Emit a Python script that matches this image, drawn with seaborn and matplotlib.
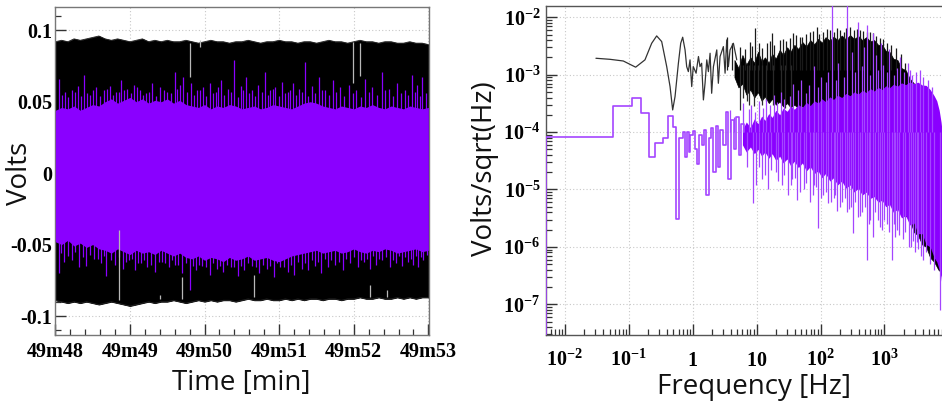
import numpy as np
import pandas as pd
import matplotlib
matplotlib.use("Agg")
import matplotlib.pyplot as plt
import seaborn as sns
from matplotlib.ticker import FixedLocator, FixedFormatter, MultipleLocator, LogLocator, NullFormatter

# ---------------- data: left panel (time series envelopes, seconds after 49m48) ----------------
black_hi = [0.092, 0.093, 0.092, 0.094, 0.093, 0.094, 0.095, 0.096, 0.094, 0.093,
            0.094, 0.093, 0.092, 0.093, 0.094, 0.092, 0.093, 0.092, 0.093, 0.092,
            0.092, 0.093, 0.092, 0.091, 0.092, 0.093, 0.092, 0.092, 0.091, 0.092,
            0.092, 0.093, 0.092, 0.091, 0.092, 0.092, 0.093, 0.092, 0.092, 0.091,
            0.092, 0.092, 0.091, 0.092, 0.093, 0.092, 0.092, 0.091, 0.092, 0.093,
            0.092, 0.092, 0.091, 0.092, 0.092, 0.091, 0.091, 0.092, 0.091, 0.091, 0.090]
black_lo = [-0.089, -0.090, -0.091, -0.090, -0.091, -0.090, -0.091, -0.092, -0.091, -0.090,
            -0.091, -0.092, -0.093, -0.092, -0.091, -0.090, -0.091, -0.090, -0.090, -0.089,
            -0.090, -0.091, -0.090, -0.089, -0.090, -0.089, -0.090, -0.089, -0.089, -0.090,
            -0.089, -0.088, -0.089, -0.089, -0.088, -0.089, -0.089, -0.088, -0.089, -0.088,
            -0.089, -0.088, -0.088, -0.089, -0.088, -0.088, -0.089, -0.088, -0.088, -0.087,
            -0.088, -0.088, -0.087, -0.088, -0.088, -0.087, -0.088, -0.087, -0.088, -0.087, -0.087]
purple_hi = [0.044, 0.046, 0.045, 0.047, 0.044, 0.046, 0.048, 0.047,
             0.050, 0.052, 0.049, 0.051, 0.053, 0.050, 0.052, 0.049, 0.051, 0.050, 0.052, 0.049, 0.051, 0.048,
             0.047, 0.046, 0.048, 0.045, 0.047, 0.046, 0.048, 0.047, 0.045, 0.046, 0.047, 0.045, 0.046, 0.048,
             0.047, 0.046, 0.045, 0.047, 0.049, 0.050,
             0.049, 0.047, 0.046, 0.045, 0.047, 0.046, 0.045, 0.047, 0.046, 0.048, 0.046, 0.045, 0.047, 0.046,
             0.045, 0.047, 0.046, 0.045, 0.046]
purple_lo = [-0.048, -0.050, -0.047, -0.051, -0.049, -0.052, -0.050, -0.053,
             -0.054, -0.056, -0.053, -0.055, -0.057, -0.054, -0.056, -0.055, -0.057, -0.054, -0.056, -0.058, -0.056, -0.059,
             -0.060, -0.058, -0.061, -0.059, -0.060, -0.062, -0.059, -0.061, -0.060, -0.058, -0.061, -0.060, -0.059, -0.061,
             -0.062, -0.060, -0.058, -0.057, -0.056, -0.055,
             -0.054, -0.056, -0.055, -0.054, -0.056, -0.055, -0.053, -0.055, -0.056, -0.054, -0.055, -0.053, -0.054, -0.056,
             -0.055, -0.054, -0.053, -0.055, -0.054]
top_spike_t = [2.7, 8, 13, 18, 23, 28, 33, 39, 44, 49, 53, 58, 63, 68, 73, 78, 84, 90, 96, 100,
               103, 109, 114, 119, 124, 129, 133, 139, 144, 149, 153, 158, 163, 169, 173, 177, 182, 187, 191, 196,
               201, 206, 212, 217, 223, 229, 236, 242, 249, 255, 263, 268, 275, 281, 287, 291, 295,
               5, 10.5, 15.5, 20.5, 25.5, 30.5, 36, 41.5, 46.5, 51, 55.5, 60.5, 65.5, 70.5, 75.5, 81, 87, 93,
               98, 106, 111.5, 116.5, 121.5, 126.5, 131, 136, 141.5, 146.5, 151, 155.5, 160.5, 166, 171, 175,
               179.5, 184.5, 189, 193.5, 198.5, 203.5, 209, 214.5, 220, 226, 232.5, 239, 245.5, 252, 259,
               265.5, 271.5, 278, 284, 289, 293, 298]
top_spike_v = [0.066, 0.057, 0.058, 0.061, 0.069, 0.055, 0.060, 0.058, 0.061, 0.057, 0.065, 0.059, 0.062, 0.058,
               0.056, 0.063, 0.060, 0.057, 0.071, 0.062, 0.067, 0.063, 0.058, 0.060, 0.063, 0.057, 0.065, 0.059,
               0.079, 0.061, 0.067, 0.058, 0.062, 0.071, 0.058, 0.060, 0.064, 0.057, 0.063, 0.059, 0.078, 0.061,
               0.067, 0.058, 0.065, 0.060, 0.062, 0.058, 0.066, 0.060, 0.071, 0.059, 0.063, 0.058, 0.069, 0.062, 0.067,
               0.055, 0.053, 0.057, 0.054, 0.056, 0.058, 0.054, 0.059, 0.055, 0.057, 0.058, 0.056, 0.060, 0.055,
               0.057, 0.054, 0.058, 0.056, 0.059, 0.057, 0.055, 0.058, 0.054, 0.056, 0.060, 0.055, 0.057, 0.053,
               0.058, 0.056, 0.054, 0.057, 0.055, 0.059, 0.054, 0.056, 0.058, 0.055, 0.057, 0.054, 0.056, 0.058,
               0.055, 0.057, 0.054, 0.056, 0.053, 0.057, 0.055, 0.058, 0.054, 0.056, 0.055, 0.057, 0.054, 0.056]
bot_spike_t = [2.7, 7, 13, 19, 25, 31, 37, 41, 48, 54, 59, 64, 69, 74, 80, 86, 91, 96, 102, 108,
               113, 118, 124, 130, 135, 141, 147, 152, 158, 164, 170, 176, 181, 187, 192, 198, 203, 209, 214, 219,
               225, 231, 237, 243, 248, 253, 258, 263, 269, 274, 279, 284, 288, 292, 296,
               4.5, 10, 16, 22, 28, 34, 39, 45, 51, 56.5, 61.5, 66.5, 71.5, 77, 83, 88.5, 93.5, 99, 105,
               110.5, 115.5, 121, 127, 132.5, 138, 144, 149.5, 155, 161, 167, 173, 178.5, 184, 189.5, 195,
               200.5, 206, 211.5, 216.5, 222, 228, 234, 240, 245.5, 250.5, 255.5, 260.5, 266, 271.5, 276.5,
               281.5, 286, 290, 294, 298.5]
bot_spike_v = [-0.070, -0.062, -0.061, -0.066, -0.065, -0.060, -0.063, -0.072, -0.064, -0.067,
               -0.061, -0.068, -0.063, -0.066, -0.069, -0.062, -0.066, -0.064, -0.070, -0.082,
               -0.068, -0.065, -0.071, -0.067, -0.069, -0.066, -0.072, -0.068, -0.065, -0.070,
               -0.067, -0.073, -0.066, -0.069, -0.071, -0.067, -0.068, -0.065, -0.070, -0.066,
               -0.064, -0.068, -0.063, -0.066, -0.062, -0.067, -0.064, -0.061, -0.066, -0.063,
               -0.065, -0.062, -0.064, -0.066, -0.061,
               -0.056, -0.058, -0.055, -0.059, -0.057, -0.060, -0.058, -0.061, -0.059, -0.062,
               -0.060, -0.063, -0.061, -0.064, -0.062, -0.063, -0.061, -0.064, -0.063, -0.065,
               -0.064, -0.066, -0.063, -0.065, -0.064, -0.066, -0.065, -0.063, -0.066, -0.064,
               -0.065, -0.063, -0.066, -0.064, -0.062, -0.063, -0.061, -0.062, -0.060, -0.061,
               -0.062, -0.060, -0.059, -0.061, -0.060, -0.058, -0.060, -0.059, -0.061, -0.058,
               -0.059, -0.060, -0.058, -0.059, -0.057]
gap_t = [108, 116, 239, 245, 51.5, 102, 160, 253, 267, 84.5]
gap_lo = [0.067, 0.088, 0.063, 0.068, -0.089, -0.088, -0.087, -0.087, -0.087, -0.088]
gap_hi = [0.091, 0.093, 0.092, 0.091, -0.040, -0.073, -0.071, -0.078, -0.082, -0.085]
time_ticks_min = [0, 1, 2, 3, 4, 5]
time_tick_labels = ["49m48", "49m49", "49m50", "49m51", "49m52", "49m53"]
volt_ticks = [-0.1, -0.05, 0.0, 0.05, 0.1]
volt_tick_labels = ["-0.1", "-0.05", "0", "0.05", "0.1"]

# ---------------- data: right panel (amplitude spectral density) ----------------
black_line_f = [0.0306, 0.0508, 0.082, 0.128, 0.179, 0.228, 0.273, 0.327, 0.392, 0.442, 0.486, 0.529,
                0.597, 0.649, 0.697, 0.759, 0.805, 0.855, 0.908, 0.965, 1.02, 1.13, 1.23, 1.30, 1.38,
                1.47, 1.56, 1.66, 1.76, 1.87, 1.98, 2.11, 2.38, 2.52, 2.68, 3.02, 3.21, 3.41, 3.62,
                3.84, 4.33, 4.89]
black_line_v = [1.93e-3, 1.85e-3, 1.73e-3, 1.35e-3, 1.81e-3, 3.52e-3, 4.73e-3, 3.77e-3, 1.38e-3, 6.2e-4,
                2.43e-4, 4.15e-4, 1.58e-3, 3.52e-3, 4.49e-3, 2.70e-3, 1.38e-3, 1.13e-3, 1.81e-3, 6.2e-4,
                1.38e-3, 1.06e-3, 2.07e-3, 1.38e-3, 1.58e-3, 3.63e-4, 7.08e-4, 1.81e-3, 1.13e-3, 2.36e-3,
                4.74e-4, 1.38e-3, 2.70e-3, 7.08e-4, 2.07e-3, 3.08e-3, 1.06e-3, 4.03e-3, 1.38e-3, 2.70e-3,
                3.52e-3, 1.81e-3]
black_band_f = [4.5, 5.2, 6, 6.9, 8, 9.2, 10.5, 12, 13.5, 15.5,
                17.5, 20, 23, 26, 30, 34, 39, 45, 52, 60,
                69, 80, 92, 105, 120, 140, 160, 185, 215, 250,
                290, 335, 390, 450, 520, 600, 690, 800, 920, 1050,
                1200, 1380, 1600, 1850, 2150, 2500, 2900, 3350, 3900, 4500,
                5200, 6000, 7000, 8000, 9000]
black_band_hi = [1.8e-3, 1.3e-3, 2.2e-3, 1.5e-3, 2.0e-3, 1.6e-3, 2.5e-3, 1.7e-3, 2.0e-3, 1.6e-3,
                 2.3e-3, 1.9e-3, 2.7e-3, 2.2e-3, 3.0e-3, 2.5e-3, 3.3e-3, 2.8e-3, 3.7e-3, 3.1e-3,
                 4.0e-3, 3.4e-3, 4.2e-3, 3.6e-3, 4.5e-3, 3.9e-3, 4.6e-3, 4.0e-3, 4.8e-3, 4.1e-3,
                 4.9e-3, 4.2e-3, 4.7e-3, 4.0e-3, 4.5e-3, 3.8e-3, 4.0e-3, 3.3e-3, 3.3e-3, 2.6e-3,
                 2.5e-3, 1.9e-3, 1.8e-3, 1.3e-3, 1.2e-3, 8.5e-4, 7e-4, 4.5e-4, 3.2e-4, 1.8e-4,
                 8e-5, 3.5e-5, 1.5e-5, 7e-6, 4e-6]
black_band_lo = [9e-4, 6e-4, 7e-4, 4.5e-4, 5.5e-4, 4e-4, 5e-4, 3.5e-4, 4.2e-4, 3.2e-4,
                 3.8e-4, 3e-4, 3.4e-4, 2.8e-4, 3.2e-4, 2.7e-4, 3e-4, 2.6e-4, 2.8e-4, 2.5e-4,
                 2.4e-4, 2e-4, 1.8e-4, 1.5e-4, 1.4e-4, 1.2e-4, 1.1e-4, 1e-4, 9e-5, 8e-5,
                 7e-5, 6.5e-5, 6e-5, 5.5e-5, 5e-5, 4.5e-5, 4e-5, 3.5e-5, 3e-5, 2.5e-5,
                 1.5e-5, 1.2e-5, 7e-6, 6e-6, 3.5e-6, 3e-6, 1.8e-6, 1.6e-6, 1.1e-6, 1e-6,
                 6.5e-7, 5.5e-7, 4e-7, 3.5e-7, 3e-7]
black_spike_f = [3.4, 4.1, 7.9, 9.4, 14.4, 17.2, 23, 33, 37.5, 48, 68, 87, 111, 141, 202, 290, 415, 528,
                 671, 853,
                 5.5, 6.5, 8.5, 11, 12, 16, 19, 26, 29, 42, 52, 60, 76, 95, 125, 160, 180, 230, 250, 330,
                 370, 460, 600, 750, 950, 1100, 1250, 1500, 1800, 2100]
black_spike_v = [4.5e-3, 3.5e-3, 3.7e-3, 6.5e-3, 3.5e-3, 5.3e-3, 4.0e-3, 4.4e-3, 5.3e-3, 4.5e-3, 5.5e-3,
                 6.8e-3, 5.5e-3, 6.0e-3, 6.0e-3, 6.8e-3, 6.0e-3, 5.5e-3, 5.3e-3, 4.4e-3,
                 3.0e-3, 2.8e-3, 3.2e-3, 3.6e-3, 2.9e-3, 3.8e-3, 3.3e-3, 4.2e-3, 3.9e-3, 5.0e-3,
                 4.6e-3, 5.2e-3, 5.8e-3, 5.2e-3, 6.2e-3, 5.5e-3, 6.4e-3, 5.6e-3, 6.6e-3, 5.9e-3,
                 6.3e-3, 5.8e-3, 5.6e-3, 4.8e-3, 4.2e-3, 3.6e-3, 3.3e-3, 2.9e-3, 2.3e-3, 1.6e-3]
black_dip_f = [5.4, 6.2, 7.0, 7.6, 9.0, 10.5, 12.0, 14, 18, 24, 28, 35]
black_dip_v = [2.4e-4, 4e-4, 3.5e-4, 3e-4, 2.8e-4, 5e-4, 3.0e-4, 3.5e-4, 3e-4, 3.2e-4, 2.6e-4, 2.5e-4]
purple_step_f = [0.0045, 0.0051, 0.056, 0.112, 0.155, 0.207, 0.257, 0.343, 0.41, 0.49, 0.55, 0.61,
                 0.70, 0.75, 0.80, 0.86, 0.92, 1.0, 1.08, 1.17, 1.27, 1.38, 1.5, 1.63, 1.77, 1.92,
                 2.1, 2.3, 2.5, 2.7, 3.0, 3.3, 3.6, 4.0, 4.4, 4.8, 5.3, 5.8, 6.3]
purple_step_v = [1e-9, 8.2e-5, 2.85e-4, 3.93e-4, 2.15e-4, 3.68e-5, 6.45e-5, 7.8e-5, 1.9e-4, 1.23e-4,
                 3.1e-6, 7.9e-5, 1.0e-4, 3.7e-5, 1.0e-4, 4.5e-5, 9e-5, 1.05e-4, 5e-5, 2.8e-5, 9e-5,
                 6e-5, 1.1e-4, 8e-6, 8e-5, 1.2e-4, 2e-5, 1.3e-4, 2.5e-5, 1.1e-4, 6e-5, 2.2e-4, 1.5e-5,
                 1.6e-4, 5e-5, 1.8e-4, 4e-5, 1.4e-4, 1e-4]
purple_band_f = [6, 6.9, 8, 9.2, 10.5, 12, 13.5, 15.5, 17.5, 20,
                 23, 26, 30, 34, 39, 45, 52, 60, 69, 80,
                 92, 105, 120, 140, 160, 185, 215, 250, 290, 335,
                 390, 450, 520, 600, 690, 800, 920, 1050, 1200, 1380,
                 1600, 1850, 2150, 2500, 2900, 3350, 3900, 4500, 5200, 6000,
                 6600, 7200, 7700, 8200, 9000]
purple_band_hi = [1.1e-4, 1.5e-4, 1.2e-4, 1.7e-4, 1.4e-4, 1.9e-4, 1.6e-4, 2.1e-4, 1.8e-4, 2.4e-4,
                  2.0e-4, 2.6e-4, 2.3e-4, 2.8e-4, 2.5e-4, 3.0e-4, 2.7e-4, 3.3e-4, 2.9e-4, 3.5e-4,
                  3.2e-4, 3.8e-4, 3.4e-4, 4.1e-4, 3.7e-4, 4.4e-4, 4.0e-4, 4.7e-4, 4.3e-4, 5.0e-4,
                  4.6e-4, 5.3e-4, 4.9e-4, 5.7e-4, 5.2e-4, 6.0e-4, 5.5e-4, 6.4e-4, 5.9e-4, 6.8e-4,
                  6.3e-4, 7.2e-4, 6.7e-4, 7.5e-4, 7.0e-4, 7.4e-4, 6.6e-4, 6.5e-4, 5.5e-4, 4.3e-4,
                  3.5e-4, 2.4e-4, 1.5e-4, 8e-5, 5e-5]
purple_band_lo = [6e-5, 4.5e-5, 5.5e-5, 4.2e-5, 5e-5, 3.8e-5, 4.5e-5, 3.5e-5, 4.2e-5, 3.2e-5,
                  3.8e-5, 2.9e-5, 3.4e-5, 2.6e-5, 3.1e-5, 2.4e-5, 2.9e-5, 2.1e-5, 2.5e-5, 1.9e-5,
                  2.1e-5, 1.6e-5, 1.9e-5, 1.4e-5, 1.6e-5, 1.2e-5, 1.4e-5, 1.05e-5, 1.2e-5, 9e-6,
                  1.05e-5, 8e-6, 9e-6, 7e-6, 7.5e-6, 6e-6, 6.5e-6, 5e-6, 5.5e-6, 4e-6,
                  4.5e-6, 3.2e-6, 3.5e-6, 2.4e-6, 2.6e-6, 1.7e-6, 1.7e-6, 1.1e-6, 1e-6, 6.5e-7,
                  5.5e-7, 4e-7, 3e-7, 1.5e-7, 1e-7]
purple_dn_f = [8.8, 12, 15, 20, 25, 31, 36, 43, 55, 68, 80, 92, 110, 131, 160, 181, 220, 260, 300, 325,
               385, 450, 530, 600, 660, 800, 910, 1100, 1310, 1450, 1580, 1950, 2400, 2800, 3000, 3350,
               4000, 7400,
               7, 9.8, 11, 13.5, 17, 22, 27, 34, 40, 48, 60, 75, 85, 100, 120, 145, 170, 200, 240, 280,
               350, 420, 500, 570, 700, 850, 1000, 1200, 1400, 1700, 2100, 2600, 3200, 3800, 4500, 5200, 6000]
purple_dn_v = [5.8e-6, 1.5e-5, 1.0e-5, 2.0e-5, 1.2e-5, 8.0e-6, 1.5e-5, 6.6e-6, 1.0e-5, 6.1e-6, 1.2e-5,
               2.15e-6, 8e-6, 5.8e-6, 7e-6, 4.2e-6, 6e-6, 4.0e-6, 5e-6, 1.75e-6, 3.3e-6, 4e-6, 5.9e-7,
               3e-6, 1.5e-6, 3e-6, 2.0e-6, 2.5e-6, 5.9e-7, 1.5e-6, 2.0e-6, 1.4e-6, 1e-6, 1.25e-6, 8e-7,
               9.3e-7, 6e-7, 8e-8,
               2.5e-5, 1.2e-5, 2.5e-5, 1.8e-5, 2.2e-5, 1.4e-5, 1.8e-5, 1.2e-5, 1.6e-5, 9e-6,
               1.3e-5, 8e-6, 1.1e-5, 7e-6, 9e-6, 6e-6, 8e-6, 5e-6, 7e-6, 4.5e-6,
               6e-6, 3.5e-6, 5e-6, 2.5e-6, 4e-6, 2.2e-6, 3e-6, 1.8e-6, 2.5e-6, 1.6e-6,
               1.8e-6, 1.0e-6, 1.2e-6, 7e-7, 8e-7, 5e-7, 4e-7]
purple_up_f = [3.8, 4.5, 6.1, 7.5, 37, 50, 80, 100, 150, 264, 390, 530, 670, 870, 1750, 2550, 3600,
               8.2, 9.5, 11, 12.5, 14, 16, 18.5, 21, 24, 27, 33, 45, 60, 66, 90, 120, 130, 175, 190, 230,
               310, 350, 450, 480, 600, 740, 800, 950, 1100, 1200, 1400, 1600, 2000, 2300, 2700, 3100,
               4000, 4800, 5600]
purple_up_v = [2.4e-4, 1.8e-4, 3.2e-4, 2.5e-4, 7e-4, 8e-4, 1.4e-3, 9e-4, 2e-2, 2e-2, 8.3e-3, 7.4e-3,
               5.3e-3, 3.5e-3, 2.0e-3, 1.2e-3, 1.2e-3,
               3.0e-4, 2.2e-4, 3.5e-4, 2.6e-4, 3.8e-4, 3.0e-4, 4.5e-4, 3.4e-4, 5.0e-4, 3.8e-4,
               4.2e-4, 5.5e-4, 4.8e-4, 6.5e-4, 6.0e-4, 7.5e-4, 1.1e-3, 8e-4, 1.6e-3, 9e-4,
               2.5e-3, 1.1e-3, 1.4e-3, 3.0e-3, 1.0e-3, 2.2e-3, 1.2e-3, 1.5e-3, 1.1e-3, 2.8e-3,
               1.0e-3, 1.3e-3, 1.1e-3, 1.6e-3, 1.0e-3, 1.1e-3, 9e-4, 8e-4, 6e-4]
freq_ticks = [1e-2, 1e-1, 1, 10, 1e2, 1e3]
freq_tick_labels = [r"$\mathbf{10^{-2}}$", r"$\mathbf{10^{-1}}$", r"$\mathbf{1}$", r"$\mathbf{10}$",
                    r"$\mathbf{10^{2}}$", r"$\mathbf{10^{3}}$"]
asd_ticks = [1e-7, 1e-6, 1e-5, 1e-4, 1e-3, 1e-2]
asd_tick_labels = [r"$\mathbf{10^{-7}}$", r"$\mathbf{10^{-6}}$", r"$\mathbf{10^{-5}}$",
                   r"$\mathbf{10^{-4}}$", r"$\mathbf{10^{-3}}$", r"$\mathbf{10^{-2}}$"]

# ---------------- style ----------------
sns.set_theme(style="white")
plt.rcParams["font.family"] = ["Liberation Serif", "DejaVu Serif"]
plt.rcParams["font.weight"] = "bold"
plt.rcParams["mathtext.fontset"] = "custom"
plt.rcParams["mathtext.rm"] = "Liberation Serif:bold"
plt.rcParams["mathtext.bf"] = "Liberation Serif:bold"
plt.rcParams["mathtext.it"] = "Liberation Serif:bold"
plt.rcParams["axes.unicode_minus"] = False

PURPLE = "#8a00ff"
PURPLE_LT = "#a445ff"
GRID = dict(color="#c8c8c8", linestyle=(0, (1, 2)), linewidth=0.8)
LABEL_FONT = dict(family=["Open Sans", "DejaVu Sans"], weight="normal", size=20, color="#111111")

W, H = 942, 403
fig = plt.figure(figsize=(W / 100, H / 100), dpi=100)


def px_axes(x0, y0, x1, y1):
    return fig.add_axes([x0 / W, 1 - y1 / H, (x1 - x0) / W, (y1 - y0) / H])


# ================= left panel =================
ax1 = px_axes(55, 7, 429, 335)
n = len(black_hi)
t = np.linspace(0, 300, n)
ax1.fill_between(t, black_lo, black_hi, color="black", lw=0.6, zorder=2)
ax1.fill_between(t, purple_lo, purple_hi, color=PURPLE, lw=0, zorder=3)
ax1.vlines(top_spike_t, 0, top_spike_v, color=PURPLE, lw=0.9, zorder=3)
ax1.vlines(bot_spike_t, 0, bot_spike_v, color=PURPLE, lw=0.9, zorder=3)
ax1.vlines(gap_t, gap_lo, gap_hi, color="#b8b8b8", lw=0.9, zorder=4)
edges = pd.DataFrame({"t": np.concatenate([t, t]),
                      "v": np.concatenate([black_hi, black_lo]),
                      "side": ["hi"] * n + ["lo"] * n})
sns.lineplot(data=edges, x="t", y="v", units="side", estimator=None, color="#222222", lw=0.6,
             ax=ax1, legend=False, zorder=2)

ax1.set_xlim(-0.3, 300.5)
ax1.set_ylim(-0.1133, 0.1163)
ax1.set_xticks([m * 60 for m in time_ticks_min])
ax1.set_xticklabels(time_tick_labels)
ax1.xaxis.set_minor_locator(MultipleLocator(12))
ax1.set_yticks(volt_ticks)
ax1.set_yticklabels(volt_tick_labels)
ax1.yaxis.set_minor_locator(MultipleLocator(0.01))
ax1.grid(True, which="major", **GRID)
ax1.set_axisbelow(True)
ax1.tick_params(axis="both", which="both", direction="in", colors="#333333", labelcolor="black",
                labelsize=14.5, top=False, right=False, left=True, bottom=True)
ax1.tick_params(axis="both", which="major", length=8, width=1.0)
ax1.tick_params(axis="both", which="minor", length=4, width=0.9)
ax1.tick_params(axis="x", which="major", pad=16)
ax1.tick_params(axis="y", which="major", pad=2)
for lab in ax1.get_xticklabels():
    lab.set_verticalalignment("baseline")
for s in ax1.spines.values():
    s.set_color("#777777")
    s.set_linewidth(1.0)
ax1.set_xlabel("Time [min]", **LABEL_FONT)
ax1.set_ylabel("Volts", **LABEL_FONT)
ax1.xaxis.set_label_coords(0.497, -0.146)
ax1.xaxis.label.set_va("center")
ax1.yaxis.set_label_coords(-0.094, 0.494)
ax1.yaxis.label.set_va("center")
ax1.yaxis.label.set_ha("center")

# ================= right panel =================
ax2 = px_axes(546, 6, 948, 335)
ax2.set_xscale("log")
ax2.set_yscale("log")
ax2.fill_between(black_band_f, black_band_lo, black_band_hi, color="black", lw=0.5, zorder=2)
ax2.vlines(black_spike_f, 1.2e-3, black_spike_v, color="#1a1a1a", lw=0.9, zorder=2)
ax2.vlines(black_dip_f, black_dip_v, 1.5e-3, color="#2a2a2a", lw=0.9, zorder=2)
sns.lineplot(x=black_line_f, y=black_line_v, estimator=None, sort=False, color="#333333", lw=0.9,
             ax=ax2, zorder=2)
ax2.fill_between(purple_band_f, purple_band_lo, purple_band_hi, color=PURPLE, lw=0, zorder=3)
ax2.vlines(purple_dn_f, purple_dn_v, 1e-4, color=PURPLE_LT, lw=0.9, zorder=3)
ax2.vlines(purple_up_f, 1e-4, purple_up_v, color=PURPLE_LT, lw=0.9, zorder=3)
sns.lineplot(x=purple_step_f, y=purple_step_v, estimator=None, sort=False, color=PURPLE_LT, lw=1.2,
             drawstyle="steps-post", ax=ax2, zorder=3)

ax2.set_xlim(5.06e-3, 9890)
ax2.set_ylim(2.92e-8, 1.57e-2)
ax2.xaxis.set_major_locator(FixedLocator(freq_ticks))
ax2.xaxis.set_major_formatter(FixedFormatter(freq_tick_labels))
ax2.xaxis.set_minor_locator(LogLocator(base=10, subs=np.arange(2, 10), numticks=20))
ax2.xaxis.set_minor_formatter(NullFormatter())
ax2.yaxis.set_major_locator(FixedLocator(asd_ticks))
ax2.yaxis.set_major_formatter(FixedFormatter(asd_tick_labels))
ax2.yaxis.set_minor_locator(LogLocator(base=10, subs=np.arange(2, 10), numticks=20))
ax2.yaxis.set_minor_formatter(NullFormatter())
ax2.grid(True, which="major", **GRID)
ax2.set_axisbelow(True)
ax2.tick_params(axis="both", which="both", direction="in", colors="#333333", labelcolor="black",
                labelsize=14.5, top=False, right=False, left=True, bottom=True)
ax2.tick_params(axis="both", which="major", length=8, width=1.0)
ax2.tick_params(axis="both", which="minor", length=4, width=0.9)
ax2.tick_params(axis="x", which="major", pad=22)
ax2.tick_params(axis="y", which="major", pad=4)
for lab in ax2.get_xticklabels():
    lab.set_verticalalignment("baseline")
for s in ax2.spines.values():
    s.set_color("#555555")
    s.set_linewidth(1.0)
ax2.set_xlabel("Frequency [Hz]", **LABEL_FONT)
ax2.set_ylabel("Volts/sqrt(Hz)", **LABEL_FONT)
ax2.xaxis.set_label_coords(0.5175, -0.158)
ax2.xaxis.label.set_va("center")
ax2.yaxis.set_label_coords(-0.1525, 0.505)
ax2.yaxis.label.set_va("center")
ax2.yaxis.label.set_ha("center")

fig.savefig("out.png", dpi=100)
